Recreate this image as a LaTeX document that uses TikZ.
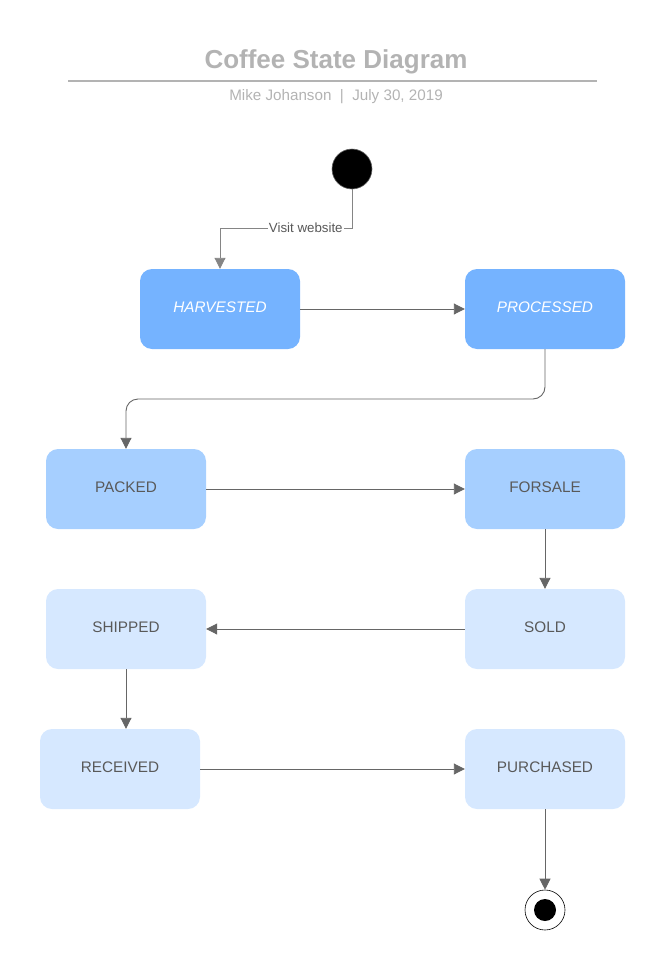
\documentclass[tikz,border=0pt]{standalone}
\usepackage{fontspec}
\setmainfont{Liberation Sans}
\usetikzlibrary{arrows.meta}
\definecolor{titlegray}{HTML}{B3B3B3}
\definecolor{linegray}{HTML}{666666}
\definecolor{textgray}{HTML}{595959}
\definecolor{stateA}{HTML}{75B3FF}
\definecolor{stateB}{HTML}{A6CFFF}
\definecolor{stateC}{HTML}{D6E8FF}
\tikzset{
  statebox/.style={rounded corners=12pt, minimum width=160pt, minimum height=80pt,
    inner sep=0pt, font=\fontsize{15.3}{17}\selectfont, text=textgray},
  topstate/.style={statebox, fill=stateA, text=white, font=\fontsize{15.3}{17}\selectfont\itshape},
  midstate/.style={statebox, fill=stateB},
  lowstate/.style={statebox, fill=stateC},
  flow/.style={draw=linegray, line width=0.9pt, -{Triangle[length=11pt,width=11pt]}},
}
\newcommand{\statelabel}[1]{\raisebox{3.5pt}{#1}}
\begin{document}
\begin{tikzpicture}[x=1pt,y=-1pt]
\useasboundingbox (0,0) rectangle (666,969);

% heading
\node[text=titlegray, font=\fontsize{26}{30}\selectfont\bfseries] (title) at (336,62) {Coffee State Diagram};
\draw[titlegray, line width=1.6pt] (68,81) -- (597,81);
\node[text=titlegray, font=\fontsize{15.2}{17}\selectfont] (byline) at (336,97) {Mike Johanson~~|~~July 30, 2019};

% pseudo states
\node[circle, fill=black, draw=linegray, line width=0.6pt, minimum size=40pt, inner sep=0pt] (start) at (352,169) {};
\node[circle, draw=black, line width=0.6pt, minimum size=40pt, inner sep=0pt] (finish) at (545,910) {};
\fill[black] (finish) circle (11);

% states
\node[topstate] (harv) at (220,309) {\statelabel{HARVESTED}};
\node[topstate] (proc) at (545,309) {\statelabel{PROCESSED}};
\node[midstate] (pack) at (126,489) {\statelabel{PACKED}};
\node[midstate] (sale) at (545,489) {\statelabel{FORSALE}};
\node[lowstate] (ship) at (126,629) {\statelabel{SHIPPED}};
\node[lowstate] (sold) at (545,629) {\statelabel{SOLD}};
\node[lowstate] (recv) at (120,769) {\statelabel{RECEIVED}};
\node[lowstate] (purch) at (545,769) {\statelabel{PURCHASED}};

% transitions
\coordinate (visitA) at (352,228);
\draw[flow, draw=linegray!80] (start.south) -- (visitA) -- (220,228)
  node[pos=0.35, fill=white, inner sep=1pt, text=textgray, font=\fontsize{13.3}{15}\selectfont] (visit) {Visit website}
  -- (harv.north);
\draw[flow] (harv.east) -- (proc.west);
\draw[flow, rounded corners=12pt] (proc.south) -- (545,399) -- (126,399) -- (pack.north);
\draw[flow] (pack.east) -- (sale.west);
\draw[flow] (sale.south) -- (sold.north);
\draw[flow] (sold.west) -- (ship.east);
\draw[flow] (ship.south) -- (ship.south |- recv.north);
\draw[flow] (recv.east) -- (purch.west);
\draw[flow] (purch.south) -- (finish.north);
\end{tikzpicture}
\end{document}
